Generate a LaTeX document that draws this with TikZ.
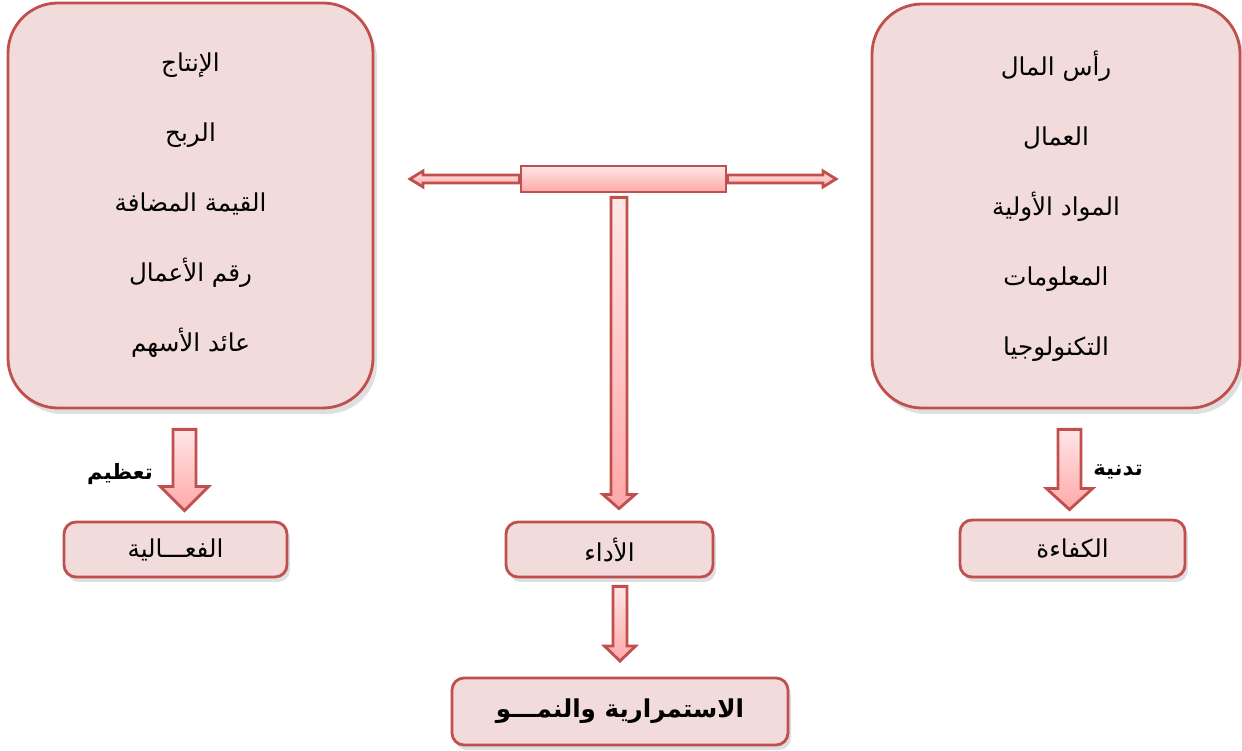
\documentclass[tikz,border=0pt]{standalone}
\usepackage{fontspec}
\usetikzlibrary{calc,shadows}
\newfontfamily\arabicfont[Script=Arabic]{DejaVu Sans}
\TeXXeTstate=1

\definecolor{rosefond}{HTML}{F2DCDB}
\definecolor{rougebord}{HTML}{C0504D}
\definecolor{rosehaut}{HTML}{FFE6E6}
\definecolor{rosebas}{HTML}{FFA8A8}

% fleche pleine de #1 vers #2 : demi-corps #3, demi-tete #4, longueur tete #5
\newcommand{\fleche}[5]{%
  \path let \p1=(#1), \p2=(#2),
    \n1={veclen(\x2-\x1,\y2-\y1)}, \n2={atan2(\y2-\y1,\x2-\x1)} in
    [flechepleine]
    ($(\p1)+(\n2+90:#3)$)
    -- ($(\p1)+(\n2:{\n1-#5})+(\n2+90:#3)$)
    -- ($(\p1)+(\n2:{\n1-#5})+(\n2+90:#4)$)
    -- (\p2)
    -- ($(\p1)+(\n2:{\n1-#5})+(\n2-90:#4)$)
    -- ($(\p1)+(\n2:{\n1-#5})+(\n2-90:#3)$)
    -- ($(\p1)+(\n2-90:#3)$) -- cycle;}

\tikzset{
  grandbloc/.style={draw=rougebord, fill=rosefond, line width=0.8pt,
    rounded corners=0.5cm, align=center,
    font=\arabicfont\fontsize{7}{19.9}\selectfont,
    drop shadow={shadow xshift=0.4mm, shadow yshift=-0.6mm, opacity=0.25}},
  petitbloc/.style={draw=rougebord, fill=rosefond, line width=0.8pt,
    rounded corners=0.12cm, font=\arabicfont\fontsize{7}{8.5}\selectfont,
    drop shadow={shadow xshift=0.3mm, shadow yshift=-0.5mm, opacity=0.25}},
  flechepleine/.style={draw=rougebord, line width=0.8pt,
    top color=rosehaut, bottom color=rosebas},
  etiquette/.style={font=\arabicfont\bfseries\fontsize{6}{7}\selectfont}
}

\begin{document}
\begin{tikzpicture}
  \useasboundingbox (0, 0) rectangle (12.42, 7.51);

  % blocs du haut
  \node (gauche) at (1.905, 5.455) [grandbloc, minimum width=3.65cm, minimum height=4.05cm]
    {\beginR الإنتاج\endR\\ \beginR الربح\endR\\ \beginR القيمة المضافة\endR\\
     \beginR رقم الأعمال\endR\\ \beginR عائد الأسهم\endR};
  \node (droite) at (10.56, 5.45) [grandbloc, minimum width=3.68cm, minimum height=4.04cm]
    {\beginR رأس المال\endR\\ \beginR العمال\endR\\ \beginR المواد الأولية\endR\\
     \beginR المعلومات\endR\\ \beginR التكنولوجيا\endR};

  % barre centrale
  \node (barre) at (6.235, 5.72) [flechepleine, minimum width=2.05cm, minimum height=0.26cm, inner sep=0pt] {};
  \coordinate (bg) at (4.10, 5.72);
  \coordinate (bd) at (8.36, 5.72);

  % blocs du bas
  \node (fa) at (1.755, 2.015) [petitbloc, minimum width=2.23cm, minimum height=0.55cm] {\beginR الفعـــالية\endR};
  \node (perf) at (6.095, 2.015) [petitbloc, minimum width=2.07cm, minimum height=0.55cm] {\beginR الأداء\endR};
  \node (eff) at (10.725, 2.025) [petitbloc, minimum width=2.25cm, minimum height=0.57cm] {\beginR الكفاءة\endR};
  \node (crois) at (6.20, 0.395) [petitbloc, minimum width=3.36cm, minimum height=0.67cm,
    font=\arabicfont\bfseries\fontsize{7}{8.5}\selectfont] {\beginR الاستمرارية والنمـــو\endR};

  % etiquettes
  \node (max) at (1.20, 2.77) [etiquette] {\beginR تعظيم\endR};
  \node (min) at (11.18, 2.79) [etiquette] {\beginR تدنية\endR};

  % fleches
  \fleche{barre.west}{bg}{0.04cm}{0.08cm}{0.13cm}
  \fleche{barre.east}{bd}{0.04cm}{0.08cm}{0.13cm}
  \fleche{$(barre.south)+(-0.045,-0.04)$}{$(perf.north)+(0.095,0.12)$}{0.08cm}{0.16cm}{0.14cm}
  \fleche{$(gauche.south)+(-0.06,-0.20)$}{$(fa.north)+(0.09,0.10)$}{0.115cm}{0.24cm}{0.24cm}
  \fleche{$(droite.south)+(0.135,-0.20)$}{$(eff.north)+(-0.03,0.09)$}{0.115cm}{0.23cm}{0.21cm}
  \fleche{$(perf.south)+(0.105,-0.08)$}{$(crois.north)+(0,0.155)$}{0.07cm}{0.155cm}{0.15cm}
\end{tikzpicture}
\end{document}
